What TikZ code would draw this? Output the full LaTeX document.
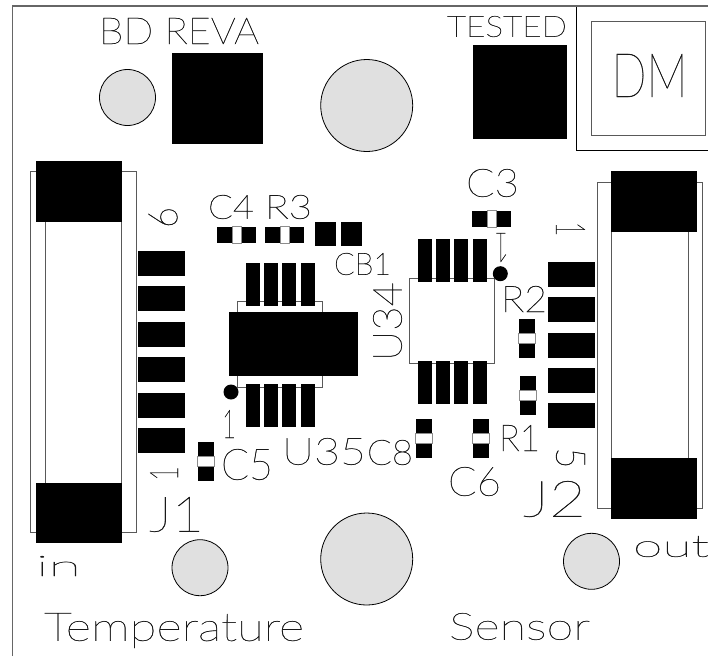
\documentclass[tikz,border=0pt]{standalone}
\usepackage{graphicx}
\usepackage{fontspec}
\font\silkfont="Lato Thin:embolden=1.0" at 10pt
\font\silkbig="Lato Thin:embolden=0.6" at 10pt
\newcommand{\fitsilk}[3]{\resizebox*{#1pt}{#2pt}{\silkfont #3}}
\newcommand{\fitbig}[3]{\resizebox*{#1pt}{#2pt}{\silkbig #3}}
\tikzset{
  silk/.style={inner sep=0pt, outer sep=0pt, text=black!90},
  outline/.style={draw=black!65, line width=1pt},
  pad/.style={fill=black},
  hole/.style={draw=black, line width=.8pt, fill=black!12},
}
\begin{document}
\begin{tikzpicture}[x=1pt,y=-1pt]
\useasboundingbox (0,0) rectangle (708,656);
\fill[white] (0,0) rectangle (708,656);
% board edge and stamp box
\draw[black!60, line width=1.2pt] (12.5,656) -- (12.5,6) -- (708,6);
\draw[black, line width=.9pt] (576,6) -- (576,150) -- (708,150);
\draw[black!60, line width=1.6pt] (576,6.5) -- (708,6.5);
\draw[outline] (591,21) rectangle (705,135);
% holes
\foreach \x/\y in {127.5/97.5, 200/567.7, 591.5/561.3} {
 \filldraw[hole] (\x,\y) circle (28pt);
}
\foreach \y in {105.5, 559} {
 \filldraw[hole] (366.7,\y) circle (46pt);
}
% test squares
\fill[pad] (172.3,53) rectangle (263.3,143.7);
\fill[pad] (472.7,45) rectangle (567,139);
% J1
\draw[outline] (30.7,171) rectangle (136,532.3);
\draw[outline] (45,200) -- (45,500);
\draw[outline] (121.7,200) -- (121.7,500);
\fill[pad] (36,161.3) rectangle (122,221.7);
\fill[pad] (36,483) rectangle (122,543);
\foreach \y in {251,286,322,357,393,428} {
 \fill[pad] (138,\y) rectangle ++(47,25);
}
% J2
\draw[outline] (597.3,182) rectangle (702.7,508);
\draw[outline] (611.7,200) -- (611.7,480);
\draw[outline] (688.3,200) -- (688.3,480);
\fill[pad] (611,171.3) rectangle (697,231.7);
\fill[pad] (611,458) rectangle (697,519);
\foreach \y in {262,297,333,368,403} {
 \fill[pad] (548,\y) rectangle ++(47,25);
}
% U35
\draw[outline] (237.3,301.7) rectangle (322.3,387.3);
\fill[pad] (229.3,312.3) rectangle (358,375.7);
\foreach \x in {246,264,282,301} {
 \fill[pad] (\x,263) rectangle ++(14,42.7);
 \fill[pad] (\x,384) rectangle ++(14,43);
}
\fill[pad] (231,392) circle (7.5pt);
% U34
\draw[outline] (409.3,278.7) rectangle (494.3,363.7);
\foreach \x in {418,436,454,473} {
 \fill[pad] (\x,239) rectangle ++(14,42.7);
 \fill[pad] (\x,361) rectangle ++(14,43);
}
\fill[pad] (500.3,273.7) circle (7.5pt);
% small parts
\foreach \x/\y in {217/227, 265/227, 472/211} {
 \fill[pad] (\x,\y) rectangle ++(39,16);
 \filldraw[draw=black!45, fill=white, line width=.7pt] (\x+15,\y-.5) rectangle ++(9.5,17);
}
\foreach \x/\y in {519/319, 520/376, 416/419, 473/419, 198/442} {
 \fill[pad] (\x,\y) rectangle ++(16,39);
 \filldraw[draw=black!45, fill=white, line width=.7pt] (\x-.5,\y+14.5) rectangle ++(17,9.5);
}
\fill[pad] (315,222) rectangle (336,246);
\fill[pad] (341,222) rectangle (362,246);
% lettering
\node[silk] (bdreva) at (179,31) {\fitbig{160}{26}{BD REVA}};
\node[silk] (tested) at (507,26.5) {\fitsilk{120}{21}{TESTED}};
\node[silk] (stamp) at (649.5,75.5) {\fitbig{76}{43}{DM}};
\node[silk] (cfour) at (231,207) {\fitsilk{46}{24}{C4}};
\node[silk] (rthree) at (288.5,207) {\fitsilk{47}{24}{R3}};
\node[silk] (cbone) at (362.5,264) {\fitsilk{57}{22}{CB1}};
\node[silk] (cthree) at (492.5,183) {\fitbig{53}{28}{C3}};
\node[silk] (rtwo) at (524,299) {\fitsilk{46}{26}{R2}};
\node[silk, rotate=90] (uthreefour) at (387.5,321.5) {\fitbig{79}{29}{U34}};
\node[silk] (uthreefive) at (324,451.5) {\fitbig{84}{27}{U35}};
\node[silk] (ceight) at (390,452.5) {\fitsilk{46}{25}{C8}};
\node[silk] (cfive) at (247,464.5) {\fitbig{52}{31}{C5}};
\node[silk] (pinuu) at (229,424) {\fitbig{14}{28}{1}};
\node[silk] (jone) at (176.5,514.5) {\fitbig{55}{35}{J1}};
\node[silk] (jtwo) at (554.5,499) {\fitbig{63}{36}{J2}};
\node[silk] (rone) at (519.5,438) {\fitsilk{41}{26}{R1}};
\node[silk] (csix) at (474.5,481.5) {\fitbig{53}{29}{C6}};
\node[silk] (inlabel) at (58.5,566) {\fitsilk{45}{20}{in}};
\node[silk] (outlabel) at (671,546.5) {\fitsilk{76}{21}{out}};
\node[silk] (temperature) at (174,630.5) {\fitbig{260}{35}{Temperature}};
\node[silk] (sensor) at (519.5,626.5) {\fitbig{141}{27}{Sensor}};
\node[silk, rotate=90] (pinsix) at (163,217.5) {\fitsilk{21}{29}{6}};
\node[silk, rotate=90] (pinone) at (164,473.5) {\fitbig{15}{28}{1}};
\node[silk, rotate=-90] (pintwo) at (570.5,229) {\fitbig{15}{29}{1}};
\node[silk, rotate=-90] (pinfive) at (570.5,458) {\fitsilk{21}{29}{5}};
\node[silk, rotate=180] (pinthree) at (501.5,247.5) {\fitbig{15}{29}{1}};
\end{tikzpicture}
\end{document}
